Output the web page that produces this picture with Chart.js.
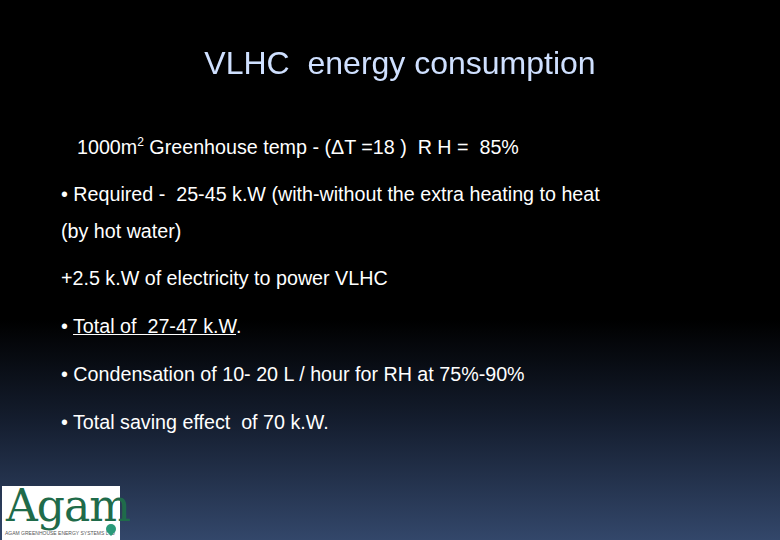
<!DOCTYPE html><html><head><meta charset="utf-8">
<script src="https://cdn.jsdelivr.net/npm/chart.js"></script>
<style>
body{margin:0;width:780px;height:540px;overflow:hidden;position:relative;font-family:"Liberation Sans",Arial,sans-serif;color:#fff;
background:linear-gradient(to bottom,#000 0px,#000 320px,#141d2e 420px,#33476a 540px);}
#c{position:absolute;left:0;top:0;width:780px;height:100px;}
.t{position:absolute;white-space:nowrap;font-size:19.7px;}
#logo{position:absolute;left:2px;top:486px;width:118px;height:54px;background:#fff;}
#logo .a{position:absolute;left:4px;top:-6px;font-family:"DejaVu Serif",serif;font-size:44px;color:#1f6b4a;letter-spacing:-1px}
#logo .s{position:absolute;left:3px;top:44px;font-size:5px;color:#555}
#logo .p{position:absolute;left:104px;top:38px;width:10px;height:10px;border-radius:50% 50% 50% 0;transform:rotate(-45deg);background:#2a9a7a}
</style></head><body>
<canvas id="c" width="780" height="100"></canvas>
<div class="t" style="left:77px;top:135px">1000m<sup style="font-size:12px">2</sup> Greenhouse temp - (ΔT =18 )&nbsp; R H =&nbsp; 85%</div>
<div class="t" style="left:61px;top:183px">• Required -&nbsp; 25-45 k.W (with-without the extra heating to heat</div>
<div class="t" style="left:61px;top:220px">(by hot water)</div>
<div class="t" style="left:61px;top:267px">+2.5 k.W of electricity to power VLHC</div>
<div class="t" style="left:61px;top:315px">• <u>Total of&nbsp; 27-47 k.W</u>.</div>
<div class="t" style="left:61px;top:363px">• Condensation of 10- 20 L / hour for RH at 75%-90%</div>
<div class="t" style="left:61px;top:411px">• Total saving effect&nbsp; of 70 k.W.</div>
<div id="logo"><span class="a">Agam</span><span class="s">AGAM GREENHOUSE ENERGY SYSTEMS LTD</span><span class="p"></span></div>
<script>
const titleText = "VLHC  energy consumption";
const categories = [];
const values = [];
new Chart(document.getElementById('c'),{type:'bar',
data:{labels:categories,datasets:[{data:values}]},
options:{responsive:false,animation:false,
layout:{padding:{top:46,left:20}},
scales:{x:{display:false},y:{display:false}},
plugins:{legend:{display:false},tooltip:{enabled:false},
title:{display:true,text:titleText,color:'#cfe0ff',font:{family:'Liberation Sans',size:32,weight:'normal'},padding:0}}}});
</script></body></html>
